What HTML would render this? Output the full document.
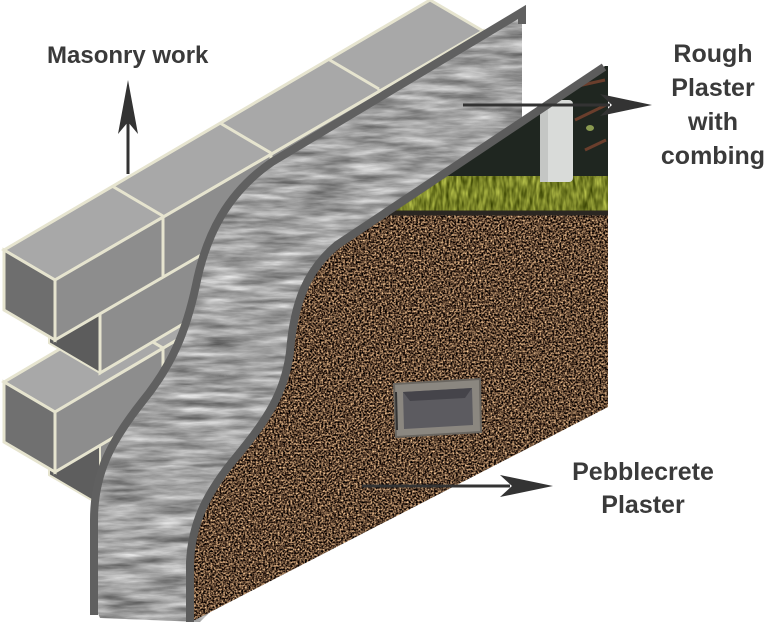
<!DOCTYPE html>
<html><head><meta charset="utf-8"><style>
html,body{margin:0;padding:0;background:#fff;}
svg{display:block;}
text{font-family:"Liberation Sans",sans-serif;font-weight:bold;fill:#3a3a3a;}
</style></head><body>
<svg width="768" height="624" viewBox="0 0 768 624" xmlns="http://www.w3.org/2000/svg">
<defs>
<filter id="plaster" x="0" y="0" width="100%" height="100%" color-interpolation-filters="sRGB">
<feTurbulence type="fractalNoise" baseFrequency="0.02 0.14" numOctaves="4" seed="2" result="n"/>
<feColorMatrix in="n" type="matrix" values="0.5 0.35 0.25 0 0.08  0.5 0.35 0.25 0 0.08  0.5 0.35 0.25 0 0.08  0 0 0 0 1" result="g"/>
<feComposite in="g" in2="SourceGraphic" operator="in"/>
</filter>
<filter id="pebble" x="0" y="0" width="100%" height="100%" color-interpolation-filters="sRGB">
<feTurbulence type="fractalNoise" baseFrequency="0.55" numOctaves="2" seed="5" result="n"/>
<feColorMatrix in="n" type="matrix" values="2.0 0 0 0 -0.62  1.7 0 0 0 -0.57  1.3 0 0 0 -0.45  0 0 0 0 1" result="g"/>
<feComposite in="g" in2="SourceGraphic" operator="in"/>
</filter>
<filter id="grassf" x="0" y="0" width="100%" height="100%" color-interpolation-filters="sRGB">
<feTurbulence type="fractalNoise" baseFrequency="0.3 0.08" numOctaves="2" seed="8" result="n"/>
<feColorMatrix in="n" type="matrix" values="0.7 0 0 0 0.12  0.7 0 0 0 0.16  0.4 0 0 0 -0.05  0 0 0 0 1" result="g"/>
<feComposite in="g" in2="SourceGraphic" operator="in"/>
</filter>
<clipPath id="photo"><polygon points="383,213 605,66 608,66 608,213"/></clipPath>
<clipPath id="wall"><polygon points="0,0 518,0 518,624 0,624"/></clipPath>
</defs>

<g clip-path="url(#wall)">
<polygon points="49,415 100,445 100,505 49,475" fill="#5e5e5e" stroke="#e6e4cf" stroke-width="2"/>
<polygon points="100,445 600,150 600,210 100,505" fill="#8d8d8d" stroke="#e6e4cf" stroke-width="2"/>
<polygon points="4,382 600,30 651,60 55,412" fill="#a8a8a8" stroke="#e6e4cf" stroke-width="3"/>
<polygon points="55,412 600,90 600,150 55,472" fill="#8d8d8d" stroke="#e6e4cf" stroke-width="3"/>
<polygon points="4,382 55,412 55,472 4,442" fill="#707070" stroke="#e6e4cf" stroke-width="3"/>
<line x1="163" y1="348" x2="163" y2="408" stroke="#e6e4cf" stroke-width="3"/>
<line x1="163" y1="348" x2="112" y2="318" stroke="#e6e4cf" stroke-width="3"/>
<polygon points="49,283 100,313 100,373 49,343" fill="#5c5c5c" stroke="#e6e4cf" stroke-width="2"/>
<polygon points="100,313 600,18 600,78 100,373" fill="#8d8d8d" stroke="#e6e4cf" stroke-width="3"/>
<polygon points="4,250 430,0 483,31 55,280" fill="#a8a8a8" stroke="#e6e4cf" stroke-width="3"/>
<polygon points="55,280 483,31 483,91 55,340" fill="#8d8d8d" stroke="#e6e4cf" stroke-width="3"/>
<polygon points="4,250 55,280 55,340 4,310" fill="#6e6e6e" stroke="#e6e4cf" stroke-width="3"/>
<g stroke="#e6e4cf" stroke-width="3">
<line x1="163" y1="216" x2="163" y2="276"/><line x1="163" y1="216" x2="112" y2="186"/>
<line x1="271" y1="153" x2="271" y2="213"/><line x1="271" y1="153" x2="220" y2="123"/>
<line x1="379" y1="89" x2="379" y2="149"/><line x1="379" y1="89" x2="328" y2="59"/>
</g>
</g>

<path d="M92,600 L92,520 C92,472 110,440 140,402 C170,365 184,332 194,285 C204,235 225,193 270,162 L520,12 L522,12 L522,300 L200,622 L100,618 Z" fill="#fff" filter="url(#plaster)"/>
<path d="M94,615 L94,520 C94,472 112,440 142,402 C172,365 186,332 196,285 C206,235 227,193 272,162 L522,12 L522,24" fill="none" stroke="#606060" stroke-width="8"/>

<g clip-path="url(#photo)">
<rect x="380" y="60" width="230" height="160" fill="#1f2620"/>
<rect x="380" y="176" width="230" height="40" fill="#fff" filter="url(#grassf)"/>
<rect x="540" y="100" width="33" height="82" rx="4" fill="#d9dbd9"/>
<rect x="540" y="100" width="8" height="82" fill="#c4c6c4"/>
<g stroke="#6a3e2c" stroke-width="3" fill="none">
<path d="M560,90 L605,80"/><path d="M575,120 L606,105"/><path d="M585,150 L606,140"/>
</g>
<ellipse cx="590" cy="128" rx="4" ry="3" fill="#8a9a50"/>
</g>

<path d="M383,213 L608,213 L608,407 L195,620 L188,620 L188,562 C190,522 205,492 235,456 C265,420 283,392 288,352 C292,302 305,270 335,245 Z" fill="#fff" filter="url(#pebble)"/>
<line x1="383" y1="213" x2="608" y2="213" stroke="#2b2722" stroke-width="5"/>
<path d="M190,622 L190,562 C192,522 207,492 237,456 C267,420 285,392 290,352 C294,302 307,270 337,245 L385,213 L604,67" fill="none" stroke="#5c5c5c" stroke-width="8"/>

<polygon points="394,384 480,379 481,432 396,437" fill="#8b8780"/>
<polygon points="394,384 480,379 481,432 396,437" fill="none" stroke="#6a6660" stroke-width="2"/>
<polygon points="403,392 472,388 473,425 404,429" fill="#5c5b60"/>
<polygon points="403,392 472,388 465,398 410,401" fill="#45444a"/>
<line x1="396" y1="392" x2="397" y2="430" stroke="#333" stroke-width="2"/>

<g fill="#333" stroke="#333">
<line x1="128" y1="174" x2="128" y2="110" stroke-width="3"/>
<path d="M128,80 L138,134 L128,122 L118,134 Z" stroke="none"/>
<line x1="463" y1="105" x2="610" y2="105" stroke-width="3"/>
<path d="M652,105 L600,94 L612,105 L600,116 Z" stroke="none"/>
<line x1="362" y1="486" x2="510" y2="486" stroke-width="3"/>
<path d="M553,486 L500,475 L512,486 L500,497 Z" stroke="none"/>
</g>

<text x="47" y="63" font-size="24">Masonry work</text>
<g font-size="25" text-anchor="middle">
<text x="713" y="62">Rough</text>
<text x="713" y="96">Plaster</text>
<text x="713" y="130">with</text>
<text x="713" y="164">combing</text>
<text x="643" y="480">Pebblecrete</text>
<text x="643" y="513">Plaster</text>
</g>
</svg>
</body></html>
